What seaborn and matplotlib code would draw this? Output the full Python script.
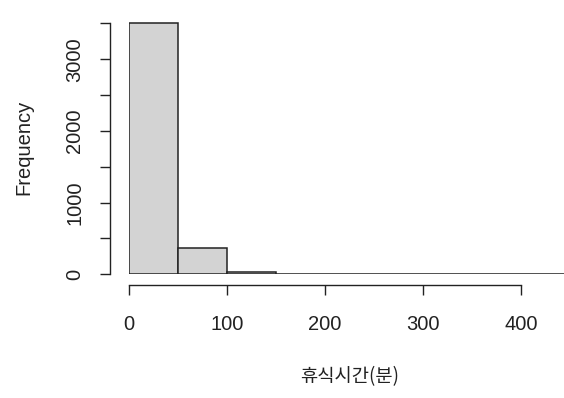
import numpy as np
import pandas as pd
import matplotlib
matplotlib.use("Agg")
import matplotlib.pyplot as plt
import seaborn as sns

# Rest time (minutes): histogram bins of width 50 and their counts
bin_edges = [0, 50, 100, 150, 200, 250, 300, 350, 400, 450]
bin_counts = [3513, 372, 37, 4, 2, 1, 1, 0, 1]
x_ticks = [0, 100, 200, 300, 400]
y_ticks = [0, 500, 1000, 1500, 2000, 2500, 3000, 3500]
y_tick_labels = ["0", "", "1000", "", "2000", "", "3000", ""]
x_title = "휴식시간(분)"
y_title = "Frequency"

sns.set_style("white")
plt.rcParams["font.family"] = ["Liberation Sans", "Noto Sans CJK KR", "DejaVu Sans"]

mids = [(a + b) / 2 for a, b in zip(bin_edges[:-1], bin_edges[1:])]
df = pd.DataFrame({"minutes": mids, "n": bin_counts})

fig = plt.figure(figsize=(5.64, 3.98), dpi=100)
ax = fig.add_axes([129 / 564, (398 - 274.3) / 398, 1 - 129 / 564, (274.3 - 15) / 398])

sns.histplot(data=df, x="minutes", weights="n", bins=bin_edges, stat="count",
             color="#D3D3D3", edgecolor="#222222", linewidth=1.1, alpha=1.0, ax=ax)

ax.set_xlim(0, 443.9)
ax.set_ylim(0, (274.3 - 15) / 0.07167)

for side in ("top", "right"):
    ax.spines[side].set_visible(False)
ax.spines["left"].set_position(("outward", 13.7))
ax.spines["bottom"].set_position(("outward", 7.7))
ax.spines["left"].set_bounds(0, 3500)
ax.spines["bottom"].set_bounds(0, 400)
for side in ("left", "bottom"):
    ax.spines[side].set_color("#222222")
    ax.spines[side].set_linewidth(1.0)

ax.set_xticks(x_ticks)
ax.set_xticklabels([str(v) for v in x_ticks])
ax.set_yticks(y_ticks)
ax.set_yticklabels(y_tick_labels)
ax.tick_params(axis="both", direction="out", length=7.5, width=1.0, color="#222222",
               labelsize=14.5, labelcolor="#222222")
ax.tick_params(axis="x", pad=14, left=True, bottom=True)
ax.tick_params(axis="y", pad=11, labelrotation=90, left=True)
for lab in ax.get_yticklabels():
    lab.set_va("center")

ax.set_xlabel(x_title, fontsize=13.5, color="#222222", family=["Noto Sans CJK KR", "DejaVu Sans"])
ax.set_ylabel(y_title, fontsize=14.5, color="#222222")
ax.xaxis.set_label_coords(0.507, -0.396)
ax.xaxis.label.set_va("center")
ax.yaxis.set_label_coords(-0.2414, 0.491)
ax.yaxis.label.set_va("center")

fig.savefig("out.png", dpi=100)
